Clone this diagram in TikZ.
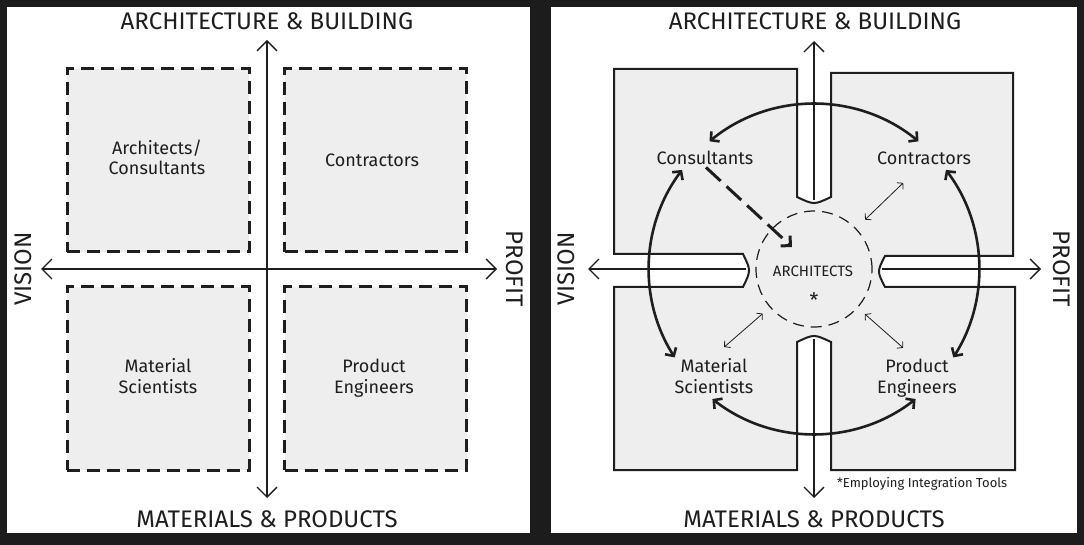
\documentclass[tikz,border=0pt]{standalone}
\usepackage{fontspec}
\setmainfont{Fira Sans}
\usetikzlibrary{arrows.meta,calc}
\definecolor{bg}{HTML}{1C1C1C}
\definecolor{ink}{HTML}{1E1E1E}
\definecolor{fillg}{HTML}{EEEEEE}
\begin{document}
\begin{tikzpicture}[x=1pt,y=-1pt,
  title/.style={text=ink,inner sep=0pt,font=\fontsize{24}{28}\selectfont},
  lab/.style={text=ink,inner sep=0pt,align=center,font=\fontsize{18}{20.5}\selectfont},
  dbox/.style={draw=ink,fill=fillg,line width=3pt,dash pattern=on 13pt off 7pt,minimum width=182pt,minimum height=183pt,inner sep=0pt},
  axisline/.style={draw=ink,line width=1.3pt,{Straight Barb[length=10pt,width=20pt]}-{Straight Barb[length=10pt,width=20pt]}},
  axisend/.style={draw=ink,line width=1.3pt,-{Straight Barb[length=10pt,width=20pt]}},
  plate/.style={draw=ink,fill=fillg,line width=2pt,line join=miter},
  bigarr/.style={draw=ink,line width=2.6pt,{Straight Barb[length=6pt,width=13pt]}-{Straight Barb[length=6pt,width=13pt]}},
  thinarr/.style={draw=ink,line width=0.8pt,{Straight Barb[length=4pt,width=9pt]}-{Straight Barb[length=4pt,width=9pt]}},
  dasharr/.style={draw=ink,line width=3pt,dash pattern=on 20pt off 8pt,-{Straight Barb[length=7pt,width=14pt]}}
]
\useasboundingbox (0,0) rectangle (1084,545);
\fill[bg] (0,0) rectangle (1084,545);
\fill[white] (7,7) rectangle (530,533);
\fill[white] (551,7) rectangle (1077,533);

% ---------- left panel ----------
\node[dbox] (bTL) at (158,160.5) {};
\node[dbox] (bTR) at (375.5,160.5) {};
\node[dbox] (bBL) at (158,378.5) {};
\node[dbox] (bBR) at (375.5,378.5) {};
\coordinate (Lt) at (267,40);
\coordinate (Lb) at (267,498);
\coordinate (Ll) at (41,269);
\coordinate (Lr) at (497,269);
\draw[axisline] (Lb) -- (Lt);
\draw[axisline] (Ll) -- (Lr);
\node[title,anchor=base] (tL) at (267,30) {ARCHITECTURE \& BUILDING};
\node[title,anchor=base] (mL) at (267,527) {MATERIALS \& PRODUCTS};
\node[title,rotate=90] (vL) at (23,269) {VISION};
\node[title,rotate=-90] (pL) at (515,269) {PROFIT};
\node[lab,anchor=base] (lAC) at (157,175) {Architects/\\Consultants};
\node[lab,anchor=base] (lCo) at (372,167) {Contractors};
\node[lab,anchor=base] (lMS) at (158,393) {Material\\Scientists};
\node[lab,anchor=base] (lPE) at (374,393) {Product\\Engineers};

% ---------- right panel ----------
\draw[plate] (614,69) -- (797,69) -- (797,197) .. controls (814,205) .. (831,197)
  -- (831,73) -- (1013,73) -- (1013,256) -- (885,256) .. controls (877,271.5) .. (885,287)
  -- (1015,287) -- (1015,470) -- (831,470) -- (831,342) .. controls (814,334) .. (797,342)
  -- (797,470) -- (614,470) -- (614,287) -- (743,287) .. controls (751,270.5) .. (743,254)
  -- (614,254) -- cycle;
\coordinate (c) at (814,269);
\coordinate (Rt0) at (814,200);
\coordinate (Rt) at (814,41);
\coordinate (Rb0) at (814,339);
\coordinate (Rb) at (814,498);
\coordinate (Rl0) at (746,269);
\coordinate (Rl) at (588,269);
\coordinate (Rr0) at (882,269);
\coordinate (Rr) at (1041,269);
\draw[axisend] (Rt0) -- (Rt);
\draw[axisend] (Rb0) -- (Rb);
\draw[axisend] (Rl0) -- (Rl);
\draw[axisend] (Rr0) -- (Rr);
\node[title,anchor=base] (tR) at (815,30) {ARCHITECTURE \& BUILDING};
\node[title,anchor=base] (mR) at (814,527) {MATERIALS \& PRODUCTS};
\node[title,rotate=90] (vR) at (566,269) {VISION};
\node[title,rotate=-90] (pR) at (1062,269) {PROFIT};

\node[circle,draw=ink,line width=1.2pt,dash pattern=on 11pt off 7pt,minimum size=116pt,inner sep=0pt] (arch) at (c) {};
\node[text=ink,inner sep=0pt,font=\fontsize{15}{18}\selectfont,anchor=base] (archt) at (813,277) {ARCHITECTS};
\node[text=ink,inner sep=0pt,font=\fontsize{20}{24}\selectfont,anchor=base] (star) at (814,307) {*};

\node[lab,anchor=base] (cons) at (705,165) {Consultants};
\node[lab,anchor=base] (contr) at (924,165) {Contractors};
\node[lab,anchor=base] (mat) at (714,393) {Material\\Scientists};
\node[lab,anchor=base] (prod) at (917,393) {Product\\Engineers};
\node[text=ink,inner sep=0pt,font=\fontsize{13}{16}\selectfont,anchor=base west] (note) at (837,487) {*Employing Integration Tools};

% big arcs on a circle of radius 165 around the centre
\draw[bigarr] ($(c)+(-129.3:165)$) arc[start angle=-129.3,end angle=-50.7,radius=165];
\draw[bigarr] ($(c)+(-143.1:165)$) arc[start angle=-143.1,end angle=-212.4,radius=165];
\draw[bigarr] ($(c)+(-232:165)$) arc[start angle=-232,end angle=-308,radius=165];
\draw[bigarr] ($(c)+(32.4:165)$) arc[start angle=32.4,end angle=-36.9,radius=165];

% thin links to the architects circle
\draw[thinarr] ($(arch.center)+(-44:71)$) -- ($(arch.center)+(-44:124)$);
\draw[thinarr] ($(arch.center)+(139:68)$) -- ($(arch.center)+(139:119)$);
\draw[thinarr] ($(arch.center)+(41.5:68)$) -- ($(arch.center)+(41.5:119)$);
\draw[dasharr] ($(cons.south)+(1,2)$) -- ($(arch.center)+(-22,-22)$);
\end{tikzpicture}
\end{document}
